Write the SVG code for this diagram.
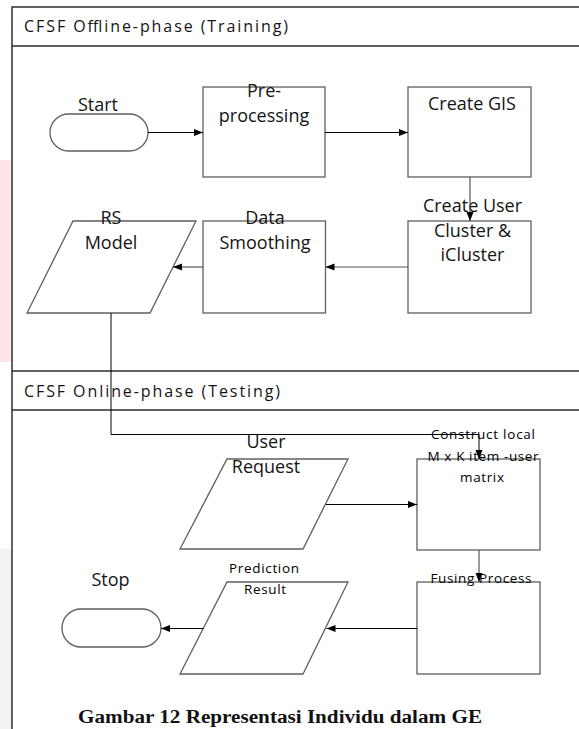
<svg xmlns="http://www.w3.org/2000/svg" width="579" height="729" viewBox="0 0 579 729">
  <defs>
    <marker id="ah" markerUnits="userSpaceOnUse" markerWidth="10" markerHeight="8" refX="9" refY="3.5" orient="auto">
      <path d="M0,0 L9,3.5 L0,7 z" fill="#000"/>
    </marker>
    <style>
      .frame{fill:none;stroke:#2e2e2e;stroke-width:1.5}
      .box{fill:#fff;stroke:#5f5f5f;stroke-width:1.3}
      .lbl{font-family:'Open Sans','DejaVu Sans',sans-serif;font-size:18px;fill:#141414;text-anchor:middle}
      .sm{font-size:13.5px;fill:#000}
      .hdr{font-family:'Open Sans','DejaVu Sans',sans-serif;font-size:16px;fill:#141414}
      .cap{font-family:'Liberation Serif','Times New Roman',serif;font-weight:bold;font-size:18px;fill:#111}
      .conn{fill:none;stroke:#000;stroke-width:1}
      .conn-g{fill:none;stroke:#555;stroke-width:1.2}
    </style>
  </defs>

  <rect x="0" y="0" width="579" height="729" fill="#fff"/>
  <!-- page margin tints -->
  <rect x="0" y="160" width="11" height="202" fill="#fde6e6"/>
  <rect x="0" y="549" width="11" height="180" fill="#f2f2f2"/>

  <!-- swimlane frame -->
  <g id="frame">
    <path class="frame" d="M12,729 V7 H579 M12,46 H579 M12,371 H579 M12,410 H579"/>
    <text class="hdr" x="24" y="32" textLength="264" lengthAdjust="spacing">CFSF Offline-phase (Training)</text>
    <text class="hdr" x="24" y="397" textLength="256" lengthAdjust="spacing">CFSF Online-phase (Testing)</text>
  </g>

  <!-- offline phase -->
  <g id="start">
    <rect class="box" x="50" y="114" width="98" height="37" rx="18.5"/>
    <text class="lbl" x="98" y="111">Start</text>
  </g>
  <g id="preprocessing">
    <rect class="box" x="203" y="87" width="122" height="90"/>
    <text class="lbl" x="264" y="97">Pre-</text>
    <text class="lbl" x="264" y="122">processing</text>
  </g>
  <g id="create-gis">
    <rect class="box" x="408" y="87" width="123" height="90"/>
    <text class="lbl" x="472" y="110">Create GIS</text>
  </g>
  <g id="create-cluster">
    <rect class="box" x="408" y="221" width="123" height="92"/>
    <text class="lbl" x="472.5" y="212">Create User</text>
    <text class="lbl" x="472.5" y="237">Cluster &amp;</text>
    <text class="lbl" x="472.5" y="261">iCluster</text>
  </g>
  <g id="data-smoothing">
    <rect class="box" x="203" y="221" width="122.5" height="92"/>
    <text class="lbl" x="265" y="224">Data</text>
    <text class="lbl" x="265" y="249">Smoothing</text>
  </g>
  <g id="rs-model">
    <polygon class="box" points="73,221 196,221 150,313 27,313"/>
    <text class="lbl" x="111" y="224">RS</text>
    <text class="lbl" x="111" y="249">Model</text>
  </g>

  <!-- online phase -->
  <g id="user-request">
    <polygon class="box" points="227,459 348,459 303,549 180,549"/>
    <text class="lbl" x="266" y="448">User</text>
    <text class="lbl" x="266" y="473">Request</text>
  </g>
  <g id="construct-matrix">
    <rect class="box" x="417" y="459" width="123" height="91"/>
    <text class="lbl sm" x="483" y="439" textLength="104" lengthAdjust="spacing">Construct local</text>
    <text class="lbl sm" x="483" y="461" textLength="111" lengthAdjust="spacing">M x K item -user</text>
    <text class="lbl sm" x="482" y="482" textLength="44" lengthAdjust="spacing">matrix</text>
  </g>
  <g id="fusing-process">
    <rect class="box" x="417" y="582" width="123" height="92"/>
    <text class="lbl sm" x="481" y="583" textLength="101" lengthAdjust="spacing">Fusing Process</text>
  </g>
  <g id="prediction-result">
    <polygon class="box" points="227,582 348,582 303,674 180,674"/>
    <text class="lbl sm" x="264" y="573" textLength="70" lengthAdjust="spacing">Prediction</text>
    <text class="lbl sm" x="265" y="594" textLength="42" lengthAdjust="spacing">Result</text>
  </g>
  <g id="stop">
    <rect class="box" x="62" y="609" width="99" height="38" rx="19"/>
    <text class="lbl" x="110.5" y="586">Stop</text>
  </g>

  <!-- connectors -->
  <g id="connectors">
    <path class="conn" d="M148,132.5 H203" marker-end="url(#ah)"/>
    <path class="conn" d="M325,132.5 H408" marker-end="url(#ah)"/>
    <path class="conn-g" d="M470,177 V221" marker-end="url(#ah)"/>
    <path class="conn-g" d="M408,267 H325.5" marker-end="url(#ah)"/>
    <path class="conn-g" d="M203,267 H173" marker-end="url(#ah)"/>
    <path class="conn" d="M111,313 V434.5 H479 V459" marker-end="url(#ah)"/>
    <path class="conn" d="M326,504.5 H417" marker-end="url(#ah)"/>
    <path class="conn-g" d="M479,550 V582" marker-end="url(#ah)"/>
    <path class="conn" d="M417,628.5 H326.5" marker-end="url(#ah)"/>
    <path class="conn" d="M203.5,628.5 H161" marker-end="url(#ah)"/>
  </g>

  <text class="cap" x="78" y="723" textLength="404" lengthAdjust="spacingAndGlyphs">Gambar 12 Representasi Individu dalam GE</text>
</svg>
